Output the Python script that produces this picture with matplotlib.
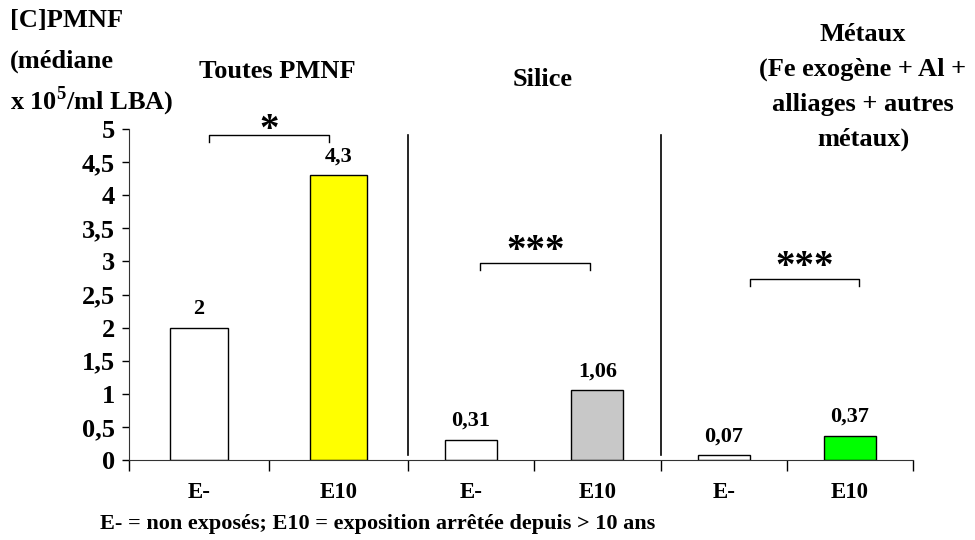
import numpy as np
import matplotlib.pyplot as plt

plt.rcParams['font.family'] = ['Liberation Serif', 'DejaVu Serif']
plt.rcParams['font.weight'] = 'bold'
plt.rcParams['mathtext.fontset'] = 'custom'
plt.rcParams['mathtext.bf'] = 'Liberation Serif:bold'

# data
groups = ["E-", "E10", "E-", "E10", "E-", "E10"]
medians = [2, 4.3, 0.31, 1.06, 0.07, 0.37]
value_labels = ["2", "4,3", "0,31", "1,06", "0,07", "0,37"]
bar_colors = ["white", "#FFFF00", "white", "#C8C8C8", "white", "#00FF00"]
panel_titles = ["Toutes PMNF", "Silice",
                "Métaux\n(Fe exogène + Al +\nalliages + autres\nmétaux)"]
signif = ["*", "***", "***"]

# category slots are not quite equal in the original layout
slot_edges = np.array([-0.5, 0.571, 1.635, 2.599, 3.571, 4.535, 5.5])
centers = (slot_edges[:-1] + slot_edges[1:]) / 2
widths = 0.41 * np.diff(slot_edges)

fig = plt.figure(figsize=(9.75, 5.4), dpi=100)
ax = fig.add_axes([0.1323, 0.148, 0.804, 0.613])

ax.bar(centers, medians, width=widths, color=bar_colors, edgecolor="black", linewidth=1, zorder=2)

for xi, v, lab in zip(centers, medians, value_labels):
    ax.text(xi, v + 0.28, lab, ha="center", va="center", fontsize=16, fontweight="bold")

yt = np.arange(0, 5.01, 0.5)
ax.set_xlim(-0.5, 5.5)
ax.set_ylim(0, 5)
ax.set_yticks(yt)
ax.set_yticklabels([("%g" % t).replace(".", ",") for t in yt])
ax.set_xticks(centers)
ax.set_xticklabels(groups)
ax.set_xticks(slot_edges, minor=True)
ax.tick_params(axis="x", which="major", length=0, pad=16, labelsize=16.5)
ax.tick_params(axis="x", which="minor", length=8, direction="out", width=1)
ax.tick_params(axis="y", length=5, direction="out", width=1, labelsize=19, pad=5)
for t in ax.get_xticklabels() + ax.get_yticklabels():
    t.set_fontweight("bold")

for s in ["top", "right"]:
    ax.spines[s].set_visible(False)
ax.spines["left"].set_color("#333333")
ax.spines["bottom"].set_color("#333333")

# panel separators
for sx in [slot_edges[2], slot_edges[4]]:
    ax.plot([sx, sx], [0.075, 4.91], color="black", lw=1.2, clip_on=False)

# significance brackets: x0, x1, top, foot, star baseline
brackets = [(0.11, 1.03, 4.91, 4.80, 4.83),
            (2.19, 3.03, 2.976, 2.87, 3.006),
            (4.25, 5.09, 2.73, 2.63, 2.765)]
for (x0, x1, ytop, ylow, ystar), s in zip(brackets, signif):
    ax.plot([x0, x0, x1, x1], [ylow, ytop, ytop, ylow], color="black", lw=1, clip_on=False)
    ax.text((x0 + x1) / 2, ystar, s, ha="center", va="baseline", fontsize=28, fontweight="bold")

# panel titles
fig.text(277 / 975, 1 - 71 / 540, panel_titles[0], ha="center", va="center", fontsize=19, fontweight="bold")
fig.text(543 / 975, 1 - 79 / 540, panel_titles[1], ha="center", va="center", fontsize=19, fontweight="bold")
fig.text(863 / 975, 1 - 87 / 540, panel_titles[2], ha="center", va="center", fontsize=19,
         fontweight="bold", linespacing=1.66)

fig.text(10 / 975, 1 - 20 / 540, "[C]PMNF", ha="left", va="center", fontsize=19, fontweight="bold")
fig.text(10 / 975, 1 - 61 / 540, "(médiane", ha="left", va="center", fontsize=19, fontweight="bold")
fig.text(10 / 975, 1 - 101 / 540, r"x 10$^{\mathbf{5}}$/ml LBA)", ha="left", va="center", fontsize=19,
         fontweight="bold")

fig.text(100 / 975, 1 - 524 / 540, "E- = non exposés; E10 = exposition arrêtée depuis > 10 ans",
         ha="left", va="center", fontsize=16, fontweight="bold")

fig.savefig("out.png", dpi=100)
